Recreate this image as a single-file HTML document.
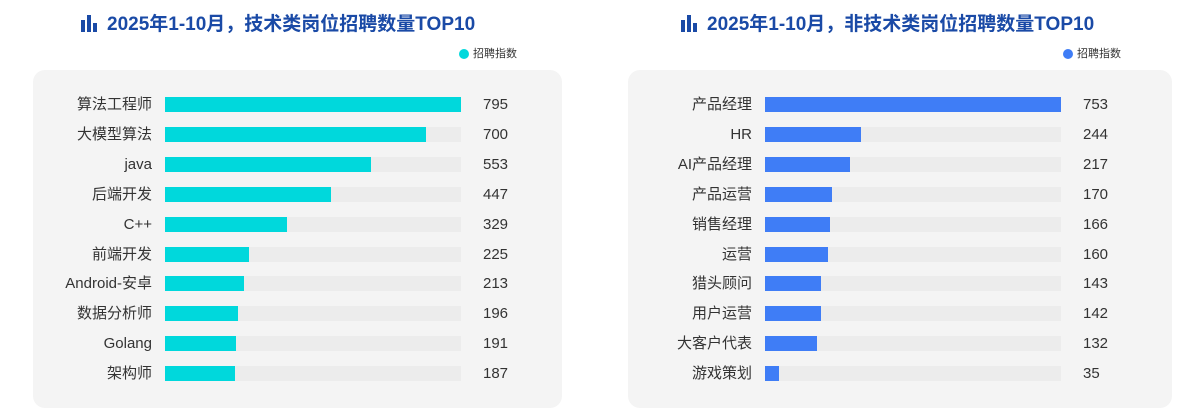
<!DOCTYPE html>
<html><head><meta charset="utf-8"><style>
body{margin:0;width:1199px;height:416px;background:#fff;font-family:"Liberation Sans","Noto Sans CJK SC",sans-serif;position:relative;overflow:hidden}
.a{position:absolute}
.title{font-size:19px;font-weight:bold;color:#1a4aa6;white-space:nowrap;line-height:24px}
.panel{background:#f4f4f4;border-radius:12px}
.lab{font-size:15px;color:#333;text-align:right;width:140px;line-height:18px}
.val{font-size:15px;color:#333;line-height:18px}
.trk{background:#ececec;height:15px}
.leg{font-size:11px;color:#333;line-height:14px}
.ico{width:4px;background:#1a4aa6}
</style></head><body>
<div id="c"></div>
<script>
function chart(ox,title,color,data,max,lx){
 let h='';
 h+=`<div class="a ico" style="left:${ox-1}px;top:20px;height:12px"></div><div class="a ico" style="left:${ox+5}px;top:15px;height:17px"></div><div class="a ico" style="left:${ox+11}px;top:23px;height:9px"></div>`;
 h+=`<div class="a title" style="left:${ox+25}px;top:13px">${title}</div>`;
 h+=`<div class="a" style="left:${lx}px;top:49px;width:10px;height:10px;border-radius:50%;background:${color}"></div><div class="a leg" style="left:${lx+14}px;top:47px">招聘指数</div>`;
 data.forEach((d,i)=>{
  const y=97+i*29.9;
  h+=`<div class="a lab" style="left:${ox-70}px;top:${y-1}px">${d[0]}</div>`;
  h+=`<div class="a trk" style="left:${ox+83}px;top:${y}px;width:296px"></div>`;
  h+=`<div class="a" style="left:${ox+83}px;top:${y}px;height:15px;width:${d[1]/max*296}px;background:${color}"></div>`;
  h+=`<div class="a val" style="left:${ox+401}px;top:${y-1}px">${d[1]}</div>`;
 });
 return h;
}
let h='<div class="a panel" style="left:33px;top:70px;width:529px;height:338px"></div><div class="a panel" style="left:628px;top:70px;width:544px;height:338px"></div>';
h+=chart(82,'2025年1-10月，技术类岗位招聘数量TOP10','#00d8dc',[['算法工程师',795],['大模型算法',700],['java',553],['后端开发',447],['C++',329],['前端开发',225],['Android-安卓',213],['数据分析师',196],['Golang',191],['架构师',187]],795,459);
h+=chart(682,'2025年1-10月，非技术类岗位招聘数量TOP10','#3f7df6',[['产品经理',753],['HR',244],['AI产品经理',217],['产品运营',170],['销售经理',166],['运营',160],['猎头顾问',143],['用户运营',142],['大客户代表',132],['游戏策划',35]],753,1063);
document.getElementById('c').innerHTML=h;
</script>
</body></html>
